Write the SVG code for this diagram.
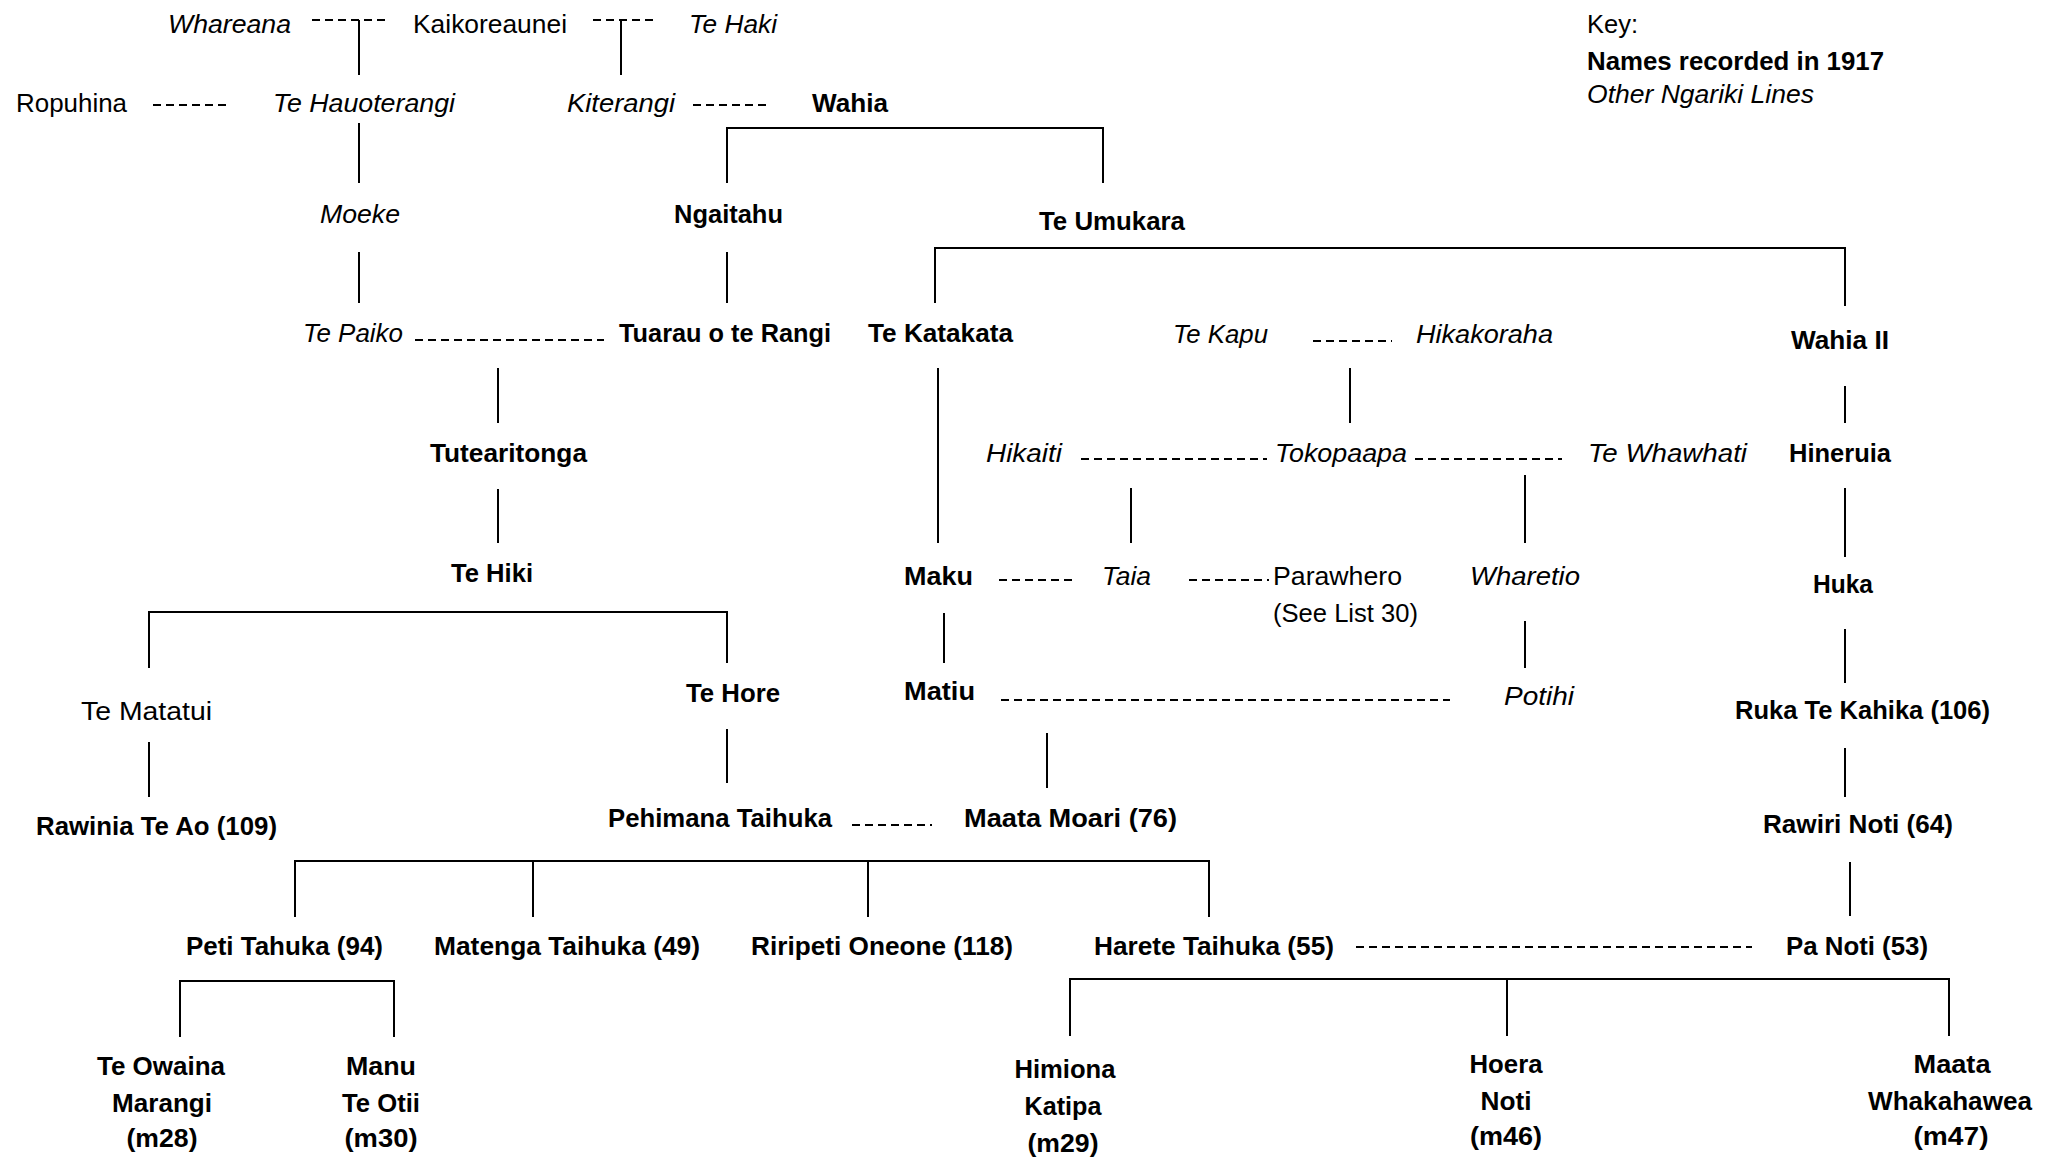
<svg xmlns="http://www.w3.org/2000/svg" width="2058" height="1157" viewBox="0 0 2058 1157">
  <style>
    text { font-family: "Liberation Sans", Arial, sans-serif; font-size: 26px; fill: #000; }
    .b { font-weight: bold; }
    .i { font-style: italic; }
    .ln { stroke: #000; stroke-width: 2; fill: none; }
    .dash { stroke: #000; stroke-width: 2; fill: none; stroke-dasharray: 8 5; }
  </style>
  <rect width="2058" height="1157" fill="#fff"/>

  <!-- descent lines and marriage links -->
  <g id="connectors">
    <!-- marriages (dashed) -->
    <path class="dash" d="M312,20 H390"/>
    <path class="dash" d="M593,20 H654"/>
    <path class="dash" d="M153,105 H230"/>
    <path class="dash" d="M693,105 H771"/>
    <path class="dash" d="M415,340 H604"/>
    <path class="dash" d="M1313,341 H1392"/>
    <path class="dash" d="M1081,459 H1267"/>
    <path class="dash" d="M1415,459 H1562"/>
    <path class="dash" d="M999,580 H1077"/>
    <path class="dash" d="M1189,580 H1269"/>
    <path class="dash" d="M1001,700 H1450"/>
    <path class="dash" d="M852,825 H932"/>
    <path class="dash" d="M1356,947 H1752"/>

    <!-- descent (solid) -->
    <path class="ln" d="M359,20 V75"/>
    <path class="ln" d="M621,20 V75"/>
    <path class="ln" d="M359,123 V183"/>
    <path class="ln" d="M727,183 V128 H1103 V183"/>
    <path class="ln" d="M359,252 V303"/>
    <path class="ln" d="M727,252 V303"/>
    <path class="ln" d="M935,303 V248 H1845 V306"/>
    <path class="ln" d="M498,368 V423"/>
    <path class="ln" d="M498,489 V543"/>
    <path class="ln" d="M938,368 V543"/>
    <path class="ln" d="M1350,368 V423"/>
    <path class="ln" d="M1845,386 V423"/>
    <path class="ln" d="M1131,488 V543"/>
    <path class="ln" d="M1525,475 V543"/>
    <path class="ln" d="M1845,488 V557"/>
    <path class="ln" d="M149,668 V612 H727 V663"/>
    <path class="ln" d="M944,613 V663"/>
    <path class="ln" d="M1525,621 V668"/>
    <path class="ln" d="M1845,629 V683"/>
    <path class="ln" d="M149,742 V797"/>
    <path class="ln" d="M727,729 V783"/>
    <path class="ln" d="M1047,733 V788"/>
    <path class="ln" d="M1845,748 V797"/>
    <path class="ln" d="M295,917 V861 H1209 V917"/>
    <path class="ln" d="M533,861 V917"/>
    <path class="ln" d="M868,861 V917"/>
    <path class="ln" d="M1850,862 V916"/>
    <path class="ln" d="M180,1037 V981 H394 V1037"/>
    <path class="ln" d="M1070,1036 V979 H1949 V1036"/>
    <path class="ln" d="M1507,979 V1036"/>
  </g>

  <!-- key -->
  <g id="key">
    <text x="1587" y="33" textLength="51" lengthAdjust="spacingAndGlyphs">Key:</text>
    <text class="b" x="1587" y="70" textLength="297" lengthAdjust="spacingAndGlyphs">Names recorded in 1917</text>
    <text class="i" x="1587" y="103" textLength="227" lengthAdjust="spacingAndGlyphs">Other Ngariki Lines</text>
  </g>

  <!-- people -->
  <g id="whareana"><text class="i" x="168" y="33" textLength="123" lengthAdjust="spacingAndGlyphs">Whareana</text></g>
  <g id="kaikoreaunei"><text x="413" y="33" textLength="154" lengthAdjust="spacingAndGlyphs">Kaikoreaunei</text></g>
  <g id="te-haki"><text class="i" x="689" y="33" textLength="88" lengthAdjust="spacingAndGlyphs">Te Haki</text></g>

  <g id="ropuhina"><text x="16" y="112" textLength="111" lengthAdjust="spacingAndGlyphs">Ropuhina</text></g>
  <g id="te-hauoterangi"><text class="i" x="273" y="112" textLength="182" lengthAdjust="spacingAndGlyphs">Te Hauoterangi</text></g>
  <g id="kiterangi"><text class="i" x="567" y="112" textLength="108" lengthAdjust="spacingAndGlyphs">Kiterangi</text></g>
  <g id="wahia"><text class="b" x="812" y="112" textLength="76" lengthAdjust="spacingAndGlyphs">Wahia</text></g>

  <g id="moeke"><text class="i" x="320" y="223" textLength="80" lengthAdjust="spacingAndGlyphs">Moeke</text></g>
  <g id="ngaitahu"><text class="b" x="674" y="223" textLength="109" lengthAdjust="spacingAndGlyphs">Ngaitahu</text></g>
  <g id="te-umukara"><text class="b" x="1039" y="230" textLength="146" lengthAdjust="spacingAndGlyphs">Te Umukara</text></g>

  <g id="te-paiko"><text class="i" x="303" y="342" textLength="100" lengthAdjust="spacingAndGlyphs">Te Paiko</text></g>
  <g id="tuarau-o-te-rangi"><text class="b" x="619" y="342" textLength="212" lengthAdjust="spacingAndGlyphs">Tuarau o te Rangi</text></g>
  <g id="te-katakata"><text class="b" x="868" y="342" textLength="145" lengthAdjust="spacingAndGlyphs">Te Katakata</text></g>
  <g id="te-kapu"><text class="i" x="1173" y="343" textLength="95" lengthAdjust="spacingAndGlyphs">Te Kapu</text></g>
  <g id="hikakoraha"><text class="i" x="1416" y="343" textLength="137" lengthAdjust="spacingAndGlyphs">Hikakoraha</text></g>
  <g id="wahia-ii"><text class="b" x="1791" y="349" textLength="98" lengthAdjust="spacingAndGlyphs">Wahia II</text></g>

  <g id="tutearitonga"><text class="b" x="430" y="462" textLength="157" lengthAdjust="spacingAndGlyphs">Tutearitonga</text></g>
  <g id="hikaiti"><text class="i" x="986" y="462" textLength="76" lengthAdjust="spacingAndGlyphs">Hikaiti</text></g>
  <g id="tokopaapa"><text class="i" x="1275" y="462" textLength="132" lengthAdjust="spacingAndGlyphs">Tokopaapa</text></g>
  <g id="te-whawhati"><text class="i" x="1588" y="462" textLength="159" lengthAdjust="spacingAndGlyphs">Te Whawhati</text></g>
  <g id="hineruia"><text class="b" x="1789" y="462" textLength="102" lengthAdjust="spacingAndGlyphs">Hineruia</text></g>

  <g id="te-hiki"><text class="b" x="451" y="582" textLength="82" lengthAdjust="spacingAndGlyphs">Te Hiki</text></g>
  <g id="maku"><text class="b" x="904" y="585" textLength="69" lengthAdjust="spacingAndGlyphs">Maku</text></g>
  <g id="taia"><text class="i" x="1102" y="585" textLength="49" lengthAdjust="spacingAndGlyphs">Taia</text></g>
  <g id="parawhero">
    <text x="1273" y="585" textLength="129" lengthAdjust="spacingAndGlyphs">Parawhero</text>
    <text x="1273" y="622" textLength="145" lengthAdjust="spacingAndGlyphs">(See List 30)</text>
  </g>
  <g id="wharetio"><text class="i" x="1470" y="585" textLength="110" lengthAdjust="spacingAndGlyphs">Wharetio</text></g>
  <g id="huka"><text class="b" x="1813" y="593" textLength="60" lengthAdjust="spacingAndGlyphs">Huka</text></g>

  <g id="te-matatui"><text x="81" y="720" textLength="131" lengthAdjust="spacingAndGlyphs">Te Matatui</text></g>
  <g id="te-hore"><text class="b" x="686" y="702" textLength="94" lengthAdjust="spacingAndGlyphs">Te Hore</text></g>
  <g id="matiu"><text class="b" x="904" y="700" textLength="71" lengthAdjust="spacingAndGlyphs">Matiu</text></g>
  <g id="potihi"><text class="i" x="1504" y="705" textLength="70" lengthAdjust="spacingAndGlyphs">Potihi</text></g>
  <g id="ruka-te-kahika"><text class="b" x="1735" y="719" textLength="255" lengthAdjust="spacingAndGlyphs">Ruka Te Kahika (106)</text></g>

  <g id="rawinia-te-ao"><text class="b" x="36" y="835" textLength="241" lengthAdjust="spacingAndGlyphs">Rawinia Te Ao (109)</text></g>
  <g id="pehimana-taihuka"><text class="b" x="608" y="827" textLength="224" lengthAdjust="spacingAndGlyphs">Pehimana Taihuka</text></g>
  <g id="maata-moari"><text class="b" x="964" y="827" textLength="213" lengthAdjust="spacingAndGlyphs">Maata Moari (76)</text></g>
  <g id="rawiri-noti"><text class="b" x="1763" y="833" textLength="190" lengthAdjust="spacingAndGlyphs">Rawiri Noti (64)</text></g>

  <g id="peti-tahuka"><text class="b" x="186" y="955" textLength="197" lengthAdjust="spacingAndGlyphs">Peti Tahuka (94)</text></g>
  <g id="matenga-taihuka"><text class="b" x="434" y="955" textLength="266" lengthAdjust="spacingAndGlyphs">Matenga Taihuka (49)</text></g>
  <g id="ripeti-oneone"><text class="b" x="751" y="955" textLength="262" lengthAdjust="spacingAndGlyphs">Riripeti Oneone (118)</text></g>
  <g id="harete-taihuka"><text class="b" x="1094" y="955" textLength="240" lengthAdjust="spacingAndGlyphs">Harete Taihuka (55)</text></g>
  <g id="pa-noti"><text class="b" x="1786" y="955" textLength="142" lengthAdjust="spacingAndGlyphs">Pa Noti (53)</text></g>

  <g id="te-owaina-marangi" class="b" text-anchor="middle">
    <text class="b" x="161" y="1075" textLength="128" lengthAdjust="spacingAndGlyphs">Te Owaina</text>
    <text class="b" x="162" y="1112" textLength="100" lengthAdjust="spacingAndGlyphs">Marangi</text>
    <text class="b" x="162" y="1147" textLength="71" lengthAdjust="spacingAndGlyphs">(m28)</text>
  </g>
  <g id="manu-te-otii" text-anchor="middle">
    <text class="b" x="381" y="1075" textLength="70" lengthAdjust="spacingAndGlyphs">Manu</text>
    <text class="b" x="381" y="1112" textLength="78" lengthAdjust="spacingAndGlyphs">Te Otii</text>
    <text class="b" x="381" y="1147" textLength="73" lengthAdjust="spacingAndGlyphs">(m30)</text>
  </g>
  <g id="himiona-katipa" text-anchor="middle">
    <text class="b" x="1065" y="1078" textLength="101" lengthAdjust="spacingAndGlyphs">Himiona</text>
    <text class="b" x="1063" y="1115" textLength="77" lengthAdjust="spacingAndGlyphs">Katipa</text>
    <text class="b" x="1063" y="1152" textLength="71" lengthAdjust="spacingAndGlyphs">(m29)</text>
  </g>
  <g id="hoera-noti" text-anchor="middle">
    <text class="b" x="1506" y="1073" textLength="73" lengthAdjust="spacingAndGlyphs">Hoera</text>
    <text class="b" x="1506" y="1110" textLength="51" lengthAdjust="spacingAndGlyphs">Noti</text>
    <text class="b" x="1506" y="1145" textLength="72" lengthAdjust="spacingAndGlyphs">(m46)</text>
  </g>
  <g id="maata-whakahawea" text-anchor="middle">
    <text class="b" x="1952" y="1073" textLength="77" lengthAdjust="spacingAndGlyphs">Maata</text>
    <text class="b" x="1950" y="1110" textLength="164" lengthAdjust="spacingAndGlyphs">Whakahawea</text>
    <text class="b" x="1951" y="1145" textLength="75" lengthAdjust="spacingAndGlyphs">(m47)</text>
  </g>
</svg>
